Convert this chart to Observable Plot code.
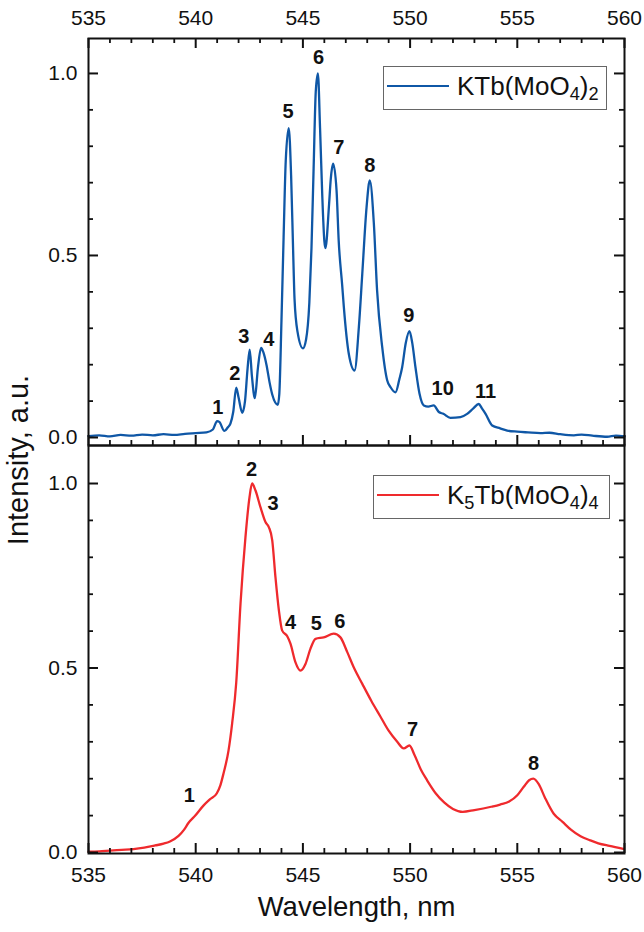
<!DOCTYPE html>
<html>
<head>
<meta charset="utf-8">
<script src="https://cdn.jsdelivr.net/npm/d3@7"></script>
<script src="https://cdn.jsdelivr.net/npm/@observablehq/plot@0.6"></script>
<style>
  body { margin: 0; background: #fff; font-family: "Liberation Sans", Arial, sans-serif; }
  #chart { position: relative; width: 644px; height: 932px; overflow: hidden; }
  #chart svg { position: absolute; left: 0; }
  .ytitle { position: absolute; left: 18px; top: 460px; transform: translate(-50%, -50%) rotate(-90deg);
            white-space: nowrap; font-size: 29px; color: #111; }
  .legend { position: absolute; box-sizing: border-box; border: 1px solid #666; background: #fff; height: 44px; }
  .legend .swatch { position: absolute; left: 3px; top: 18px; width: 62px; height: 0; border-top: 2.4px solid; }
  .legend .name { position: absolute; left: 73px; top: 4px; font-size: 26px; color: #111; line-height: 30px; white-space: nowrap; }
  .legend sub { font-size: 0.7em; vertical-align: -0.3em; line-height: 0; }
</style>
</head>
<body>
<div id="chart"></div>
<script>
// KTb(MoO4)2 emission spectrum, normalised intensity vs wavelength (nm)
const ktbWavelength = [
  535.0, 535.5, 536.0, 536.5, 537.0, 537.5, 538.0, 538.5, 539.0, 539.5, 540.0, 540.5, 540.8,
  541.0, 541.1, 541.34, 541.5, 541.62, 541.75, 541.89, 542.0, 542.17, 542.3, 542.42, 542.52,
  542.62, 542.76, 542.9, 543.05, 543.15, 543.3, 543.45, 543.57, 543.83, 543.9, 544.0, 544.1,
  544.2, 544.34, 544.45, 544.55, 544.61, 544.75, 545.0, 545.15, 545.3, 545.4, 545.5, 545.6,
  545.7, 545.8, 545.9, 546.0, 546.05, 546.22, 546.3, 546.41, 546.57, 546.67, 546.83, 546.91,
  547.14, 547.41, 547.61, 547.77, 547.97, 548.12, 548.31, 548.46, 548.7, 548.93, 549.09, 549.32,
  549.5, 549.63, 549.8, 549.97, 550.1, 550.25, 550.44, 550.64, 550.85, 551.1, 551.34, 551.55,
  551.88, 552.35, 552.66, 552.95, 553.2, 553.35, 553.52, 553.83, 554.2, 554.53, 555.0, 555.5,
  556.08, 556.5, 557.0, 557.64, 558.0, 558.5, 559.19, 559.6, 560.0
];
const ktbIntensity = [
  0.004, 0.006, 0.003, 0.007, 0.005, 0.008, 0.006, 0.009, 0.007, 0.010, 0.012, 0.014, 0.022,
  0.045, 0.043, 0.018, 0.028, 0.038, 0.070, 0.137, 0.110, 0.068, 0.100, 0.190, 0.241,
  0.170, 0.108, 0.190, 0.246, 0.235, 0.200, 0.150, 0.118, 0.090, 0.120, 0.320, 0.550,
  0.760, 0.850, 0.720, 0.500, 0.380, 0.290, 0.245, 0.270, 0.370, 0.520, 0.740, 0.950,
  1.000, 0.850, 0.670, 0.540, 0.520, 0.640, 0.710, 0.752, 0.678, 0.540, 0.420, 0.358,
  0.230, 0.184, 0.303, 0.450, 0.633, 0.706, 0.587, 0.404, 0.248, 0.157, 0.138, 0.124,
  0.160, 0.193, 0.260, 0.292, 0.260, 0.193, 0.120, 0.088, 0.085, 0.088, 0.070, 0.065,
  0.054, 0.056, 0.065, 0.080, 0.092, 0.080, 0.065, 0.033, 0.025, 0.019, 0.016, 0.014,
  0.012, 0.013, 0.009, 0.006, 0.008, 0.005, 0.002, 0.005, 0.003
];

// K5Tb(MoO4)4 emission spectrum
const k5tbWavelength = [
  535.0, 535.5, 536.0, 536.55, 537.1, 537.6, 538.11, 538.5, 538.8, 539.2, 539.46, 539.66,
  539.98, 540.36, 540.68, 540.98, 541.15, 541.3, 541.53, 541.7, 541.89, 542.09, 542.32,
  542.51, 542.63, 542.79, 543.02, 543.26, 543.41, 543.57, 543.72, 543.88, 544.03, 544.27,
  544.42, 544.65, 544.89, 545.12, 545.35, 545.59, 545.97, 546.44, 546.75, 547.07, 547.37,
  547.77, 548.2, 548.6, 549.0, 549.4, 549.7, 549.97, 550.2, 550.5, 550.8, 551.2, 551.6,
  552.0, 552.45, 553.0, 553.78, 554.2, 554.62, 555.0, 555.3, 555.55, 555.75, 556.0, 556.28,
  556.7, 557.11, 557.5, 557.95, 558.4, 558.78, 559.3, 559.95
];
const k5tbIntensity = [
  0.002, 0.003, 0.005, 0.007, 0.009, 0.013, 0.019, 0.024, 0.030, 0.045, 0.062, 0.080,
  0.100, 0.127, 0.145, 0.160, 0.182, 0.215, 0.276, 0.350, 0.460, 0.674, 0.854,
  0.963, 1.000, 0.981, 0.936, 0.895, 0.882, 0.846, 0.746, 0.656, 0.602, 0.586,
  0.566, 0.516, 0.493, 0.511, 0.552, 0.579, 0.583, 0.593, 0.583, 0.543, 0.502,
  0.457, 0.410, 0.370, 0.330, 0.300, 0.282, 0.290, 0.265, 0.225, 0.195, 0.160, 0.135,
  0.118, 0.110, 0.115, 0.124, 0.130, 0.138, 0.155, 0.178, 0.196, 0.200, 0.185, 0.150,
  0.105, 0.083, 0.062, 0.044, 0.033, 0.025, 0.018, 0.010
];

// Numbered emission lines: label anchor (wavelength, intensity)
const ktbPeakNames = ["1", "2", "3", "4", "5", "6", "7", "8", "9", "10", "11"];
const ktbPeakX = [541.03, 541.82, 542.24, 543.41, 544.31, 545.73, 546.67, 548.12, 549.94, 551.52, 553.52];
const ktbPeakY = [0.083, 0.175, 0.277, 0.268, 0.896, 1.044, 0.797, 0.747, 0.335, 0.134, 0.127];

const k5tbPeakNames = ["1", "2", "3", "4", "5", "6", "7", "8"];
const k5tbPeakX = [539.70, 542.60, 543.61, 544.42, 545.63, 546.72, 550.11, 555.76];
const k5tbPeakY = [0.154, 1.038, 0.945, 0.624, 0.620, 0.627, 0.333, 0.241];

// Axis ticks
const xMajor = [535, 540, 545, 550, 555, 560];
const xMinor = d3.range(535, 561).filter(d => d % 5 !== 0);
const yMajor = [0, 0.5, 1.0];
const yMinor = [0.1, 0.2, 0.3, 0.4, 0.6, 0.7, 0.8, 0.9];

const BLUE = "#0f57a6";
const RED = "#ef2a2d";
const INK = "#111";
const FONT = "'Liberation Sans', Arial, sans-serif";

const WIDTH = 644, ML = 88, MR = 20;
const MAJOR = 10, MINOR = 5;

// Inward-pointing ticks on the framed sides of a panel of inner height h
function frameTicks(h, withTop) {
  const w = WIDTH - ML - MR;
  const xs = (ticks, len, sw) => {
    const m = [Plot.ruleX(ticks, {insetTop: h - len, stroke: INK, strokeWidth: sw})];
    if (withTop) m.push(Plot.ruleX(ticks, {insetBottom: h - len, stroke: INK, strokeWidth: sw}));
    return m;
  };
  const ys = (ticks, len, sw) => [
    Plot.ruleY(ticks, {insetRight: w - len, stroke: INK, strokeWidth: sw}),
    Plot.ruleY(ticks, {insetLeft: w - len, stroke: INK, strokeWidth: sw})
  ];
  return [
    ...xs(xMajor, MAJOR, 2), ...xs(xMinor, MINOR, 1.8),
    ...ys(yMajor, MAJOR, 2), ...ys(yMinor, MINOR, 1.8),
    Plot.axisY(yMajor, {anchor: "left", tickSize: 0, tickPadding: 11, label: null, fontSize: 21, fill: INK,
                        tickFormat: d => d.toFixed(1)}),
    Plot.axisX(xMajor, {anchor: withTop ? "top" : "bottom", tickSize: 0, tickPadding: 14, label: null,
                        fontSize: 21, fill: INK, tickFormat: d => String(d)})
  ];
}

const upperH = 446, upperTop = 38, upperBottom = 1;
const upper = Plot.plot({
  width: WIDTH, height: upperH,
  marginTop: upperTop, marginBottom: upperBottom, marginLeft: ML, marginRight: MR,
  style: {fontFamily: FONT, background: "transparent", overflow: "visible"},
  x: {domain: [535, 560], label: null},
  y: {domain: [-0.022, 1.096], label: null},
  marks: [
    Plot.line(ktbIntensity, {x: ktbWavelength, y: ktbIntensity, stroke: BLUE, strokeWidth: 2.3, curve: "monotone-x"}),
    Plot.text(ktbPeakNames, {x: ktbPeakX, y: ktbPeakY, text: d => d, fontSize: 20, fontWeight: "bold", fill: INK}),
    ...frameTicks(upperH - upperTop - upperBottom, true),
    Plot.frame({stroke: INK, strokeWidth: 2})
  ]
});

const lowerH = 487, lowerTop = 0, lowerBottom = 79;
const lower = Plot.plot({
  width: WIDTH, height: lowerH,
  marginTop: lowerTop, marginBottom: lowerBottom, marginLeft: ML, marginRight: MR,
  style: {fontFamily: FONT, background: "transparent", overflow: "visible"},
  x: {domain: [535, 560], label: null},
  y: {domain: [-0.0027, 1.103], label: null},
  marks: [
    Plot.line(k5tbIntensity, {x: k5tbWavelength, y: k5tbIntensity, stroke: RED, strokeWidth: 2.3, curve: "monotone-x"}),
    Plot.text(k5tbPeakNames, {x: k5tbPeakX, y: k5tbPeakY, text: d => d, fontSize: 20, fontWeight: "bold", fill: INK}),
    ...frameTicks(lowerH - lowerTop - lowerBottom, false),
    Plot.text(["Wavelength, nm"], {frameAnchor: "bottom", dy: 62, fontSize: 27.5, fill: INK}),
    Plot.frame({stroke: INK, strokeWidth: 2})
  ]
});

const chart = document.getElementById("chart");
upper.style.top = "0px";
lower.style.top = "445px";
chart.append(upper, lower);

const ytitle = document.createElement("div");
ytitle.className = "ytitle";
ytitle.textContent = "Intensity, a.u.";
chart.append(ytitle);

function legend(left, top, width, color, html) {
  const box = document.createElement("div");
  box.className = "legend";
  box.style.left = left + "px";
  box.style.top = top + "px";
  box.style.width = width + "px";
  const sw = document.createElement("div");
  sw.className = "swatch";
  sw.style.borderTopColor = color;
  const name = document.createElement("div");
  name.className = "name";
  name.innerHTML = html;
  box.append(sw, name);
  chart.append(box);
}
legend(383, 66, 224, BLUE, "KTb(MoO<sub>4</sub>)<sub>2</sub>");
legend(373, 475, 237, RED, "K<sub>5</sub>Tb(MoO<sub>4</sub>)<sub>4</sub>");
</script>
</body>
</html>
